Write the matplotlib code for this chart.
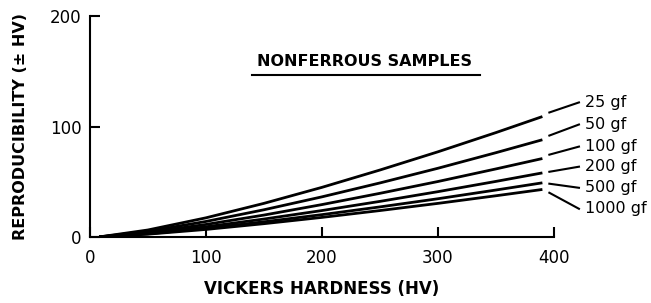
import numpy as np
import matplotlib
matplotlib.use('Agg')
import matplotlib.pyplot as plt

# hardness values (HV) where the curves were read
hv = [8, 50, 100, 150, 200, 250, 300, 350, 390]

# reproducibility (+/- HV) for each test load
loads = ['25 gf', '50 gf', '100 gf', '200 gf', '500 gf', '1000 gf']
repro = {
    '25 gf':   [0, 6.3, 17.3, 30.4, 44.9, 60.6, 77.1, 94.5, 109],
    '50 gf':   [0, 5.1, 14.0, 24.6, 36.3, 48.9, 62.2, 76.3, 88],
    '100 gf':  [0, 4.1, 11.3, 19.8, 29.3, 39.5, 50.2, 61.6, 71],
    '200 gf':  [0, 3.4, 9.2, 16.2, 23.9, 32.2, 41.0, 50.3, 58],
    '500 gf':  [0, 2.8, 7.8, 13.7, 20.2, 27.2, 34.6, 42.5, 49],
    '1000 gf': [0, 2.5, 6.8, 12.0, 17.7, 23.9, 30.4, 37.3, 43],
}

# leader lines: start y near curve end, label y
lead_start = [112.7, 91.8, 74.5, 59.0, 48.2, 40.0]
label_y = [121.8, 101.8, 81.8, 63.6, 44.5, 25.5]

plt.rcParams['font.family'] = 'DejaVu Sans'

fig = plt.figure(figsize=(6.51, 3.03), dpi=100)
ax = fig.add_axes([0.138, 0.218, 0.713, 0.729])

for name in loads:
    ax.plot(hv, repro[name], color='black', lw=2.0, solid_capstyle='butt')

for name, y0, y1 in zip(loads, lead_start, label_y):
    ax.plot([396, 421.5], [y0, y1], color='black', lw=1.5, clip_on=False)
    ax.text(427, y1, name, fontsize=11.5, va='center', ha='left')

ax.set_xlim(0, 400)
ax.set_ylim(0, 200)
ax.set_xticks([0, 100, 200, 300, 400])
ax.set_yticks([0, 100, 200])
ax.spines['top'].set_visible(False)
ax.spines['right'].set_visible(False)
for s in ['left', 'bottom']:
    ax.spines[s].set_linewidth(1.5)
ax.tick_params(direction='in', length=7, width=1.5, labelsize=12)
ax.tick_params(axis='x', pad=8.5)
ax.tick_params(axis='y', pad=6)

ax.set_xlabel('VICKERS HARDNESS (HV)', fontsize=12, fontweight='bold', labelpad=9.5)
ax.set_ylabel('REPRODUCIBILITY (\u00b1 HV)', fontsize=11.5, fontweight='bold', labelpad=16)

ax.text(237, 159, 'NONFERROUS SAMPLES', fontsize=11.5, fontweight='bold',
        ha='center', va='center')
ax.plot([140, 336], [147, 147], color='black', lw=1.5)

fig.savefig('out.png', dpi=100)
